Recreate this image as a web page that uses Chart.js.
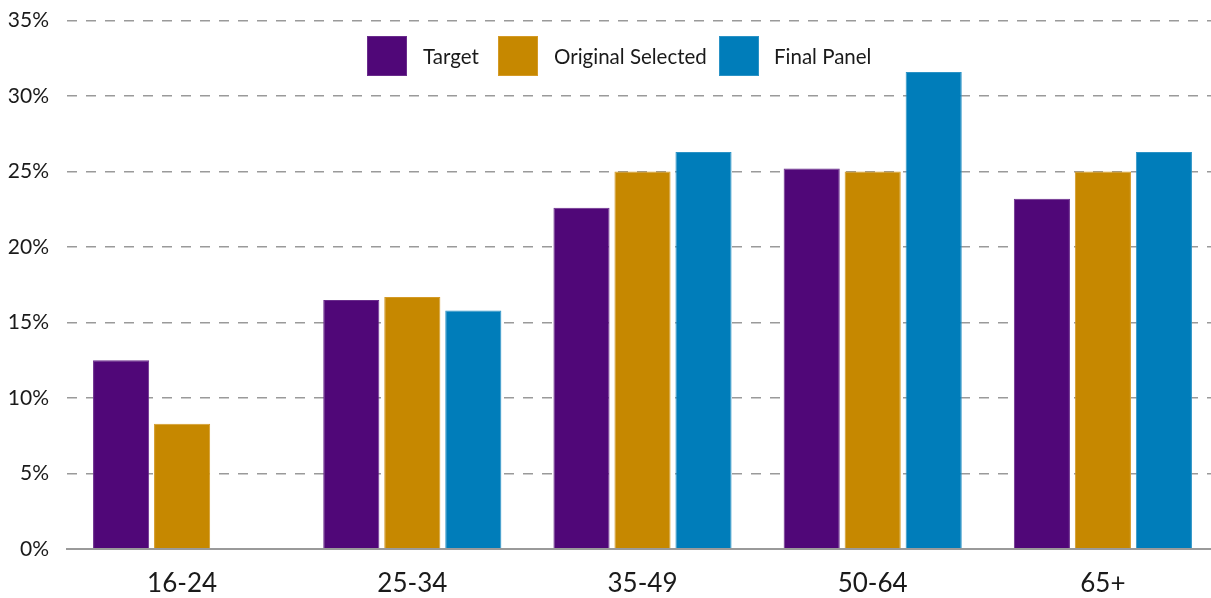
<!DOCTYPE html>
<html>
<head>
<meta charset="utf-8">
<script src="https://cdn.jsdelivr.net/npm/chart.js@4.4.1/dist/chart.umd.min.js"></script>
<style>
  html, body { margin: 0; padding: 0; background: #fff; overflow: hidden; }
  #wrap { position: relative; width: 1211px; height: 598px; overflow: hidden; }
  canvas { position: absolute; left: 0; top: -10px; }
  .swatch { position: absolute; top: 36px; width: 40px; height: 40px; }
  .ltext { position: absolute; top: 56px; transform: translateY(-50%); white-space: nowrap;
           font-family: Lato, "Open Sans", sans-serif; font-size: 20.5px; color: #1a1a1a; }
</style>
</head>
<body>
<div id="wrap">
  <canvas id="chart" width="1218" height="608"></canvas>
  <div id="legend"></div>
</div>
<script>
const categories = ['16-24', '25-34', '35-49', '50-64', '65+'];
const target = [12.5, 16.5, 22.6, 25.2, 23.2];
const originalSelected = [8.3, 16.7, 25.0, 25.0, 25.0];
const finalPanel = [null, 15.8, 26.3, 31.6, 26.3];
const seriesNames = ['Target', 'Original Selected', 'Final Panel'];
const seriesColors = ['#500778', '#C68800', '#007DBA'];
const seriesEdges = ['#6a2c8c', '#d49a26', '#2b93c6'];
const yMax = 35;
const yStep = 5;

const fontFamily = 'Lato, "Open Sans", sans-serif';
const seriesData = [target, originalSelected, finalPanel];

const datasets = seriesNames.map((name, i) => ({
  label: name,
  data: seriesData[i],
  backgroundColor: seriesColors[i],
  borderColor: seriesEdges[i],
  borderWidth: 1,
  categoryPercentage: 0.795,
  barPercentage: 0.92
}));

new Chart(document.getElementById('chart'), {
  type: 'bar',
  data: { labels: categories, datasets },
  options: {
    responsive: false,
    animation: false,
    devicePixelRatio: 1,
    layout: { padding: { left: 0, right: 0, top: 0, bottom: 0 } },
    plugins: { legend: { display: false }, tooltip: { enabled: false } },
    scales: {
      x: {
        grid: { display: false, drawTicks: false },
        border: { display: true, color: '#9a9a9a', width: 2, z: 1 },
        ticks: { color: '#1a1a1a', font: { family: fontFamily, size: 26 }, padding: 19 },
        afterFit(scale) { scale.height = 49; }
      },
      y: {
        min: 0, max: yMax,
        border: { display: false, dash: [10, 9] },
        grid: { color: '#9a9a9a', lineWidth: 1.6, drawTicks: false },
        ticks: {
          stepSize: yStep,
          color: '#1a1a1a',
          font: { family: fontFamily, size: 21 },
          padding: 18,
          callback: v => v + '%'
        },
        afterFit(scale) { scale.width = 67; }
      }
    }
  }
});

// Legend drawn as HTML text over the top of the plot
const legend = document.getElementById('legend');
const swatchLeft = [367, 498, 719];
const textLeft = [423, 554, 774];
seriesNames.forEach((name, i) => {
  const sw = document.createElement('div');
  sw.className = 'swatch';
  sw.style.left = swatchLeft[i] + 'px';
  sw.style.background = seriesColors[i];
  sw.style.boxShadow = 'inset 0 0 0 1px ' + seriesEdges[i];
  const txt = document.createElement('div');
  txt.className = 'ltext';
  txt.style.left = textLeft[i] + 'px';
  txt.textContent = name;
  legend.appendChild(sw);
  legend.appendChild(txt);
});
</script>
</body>
</html>
